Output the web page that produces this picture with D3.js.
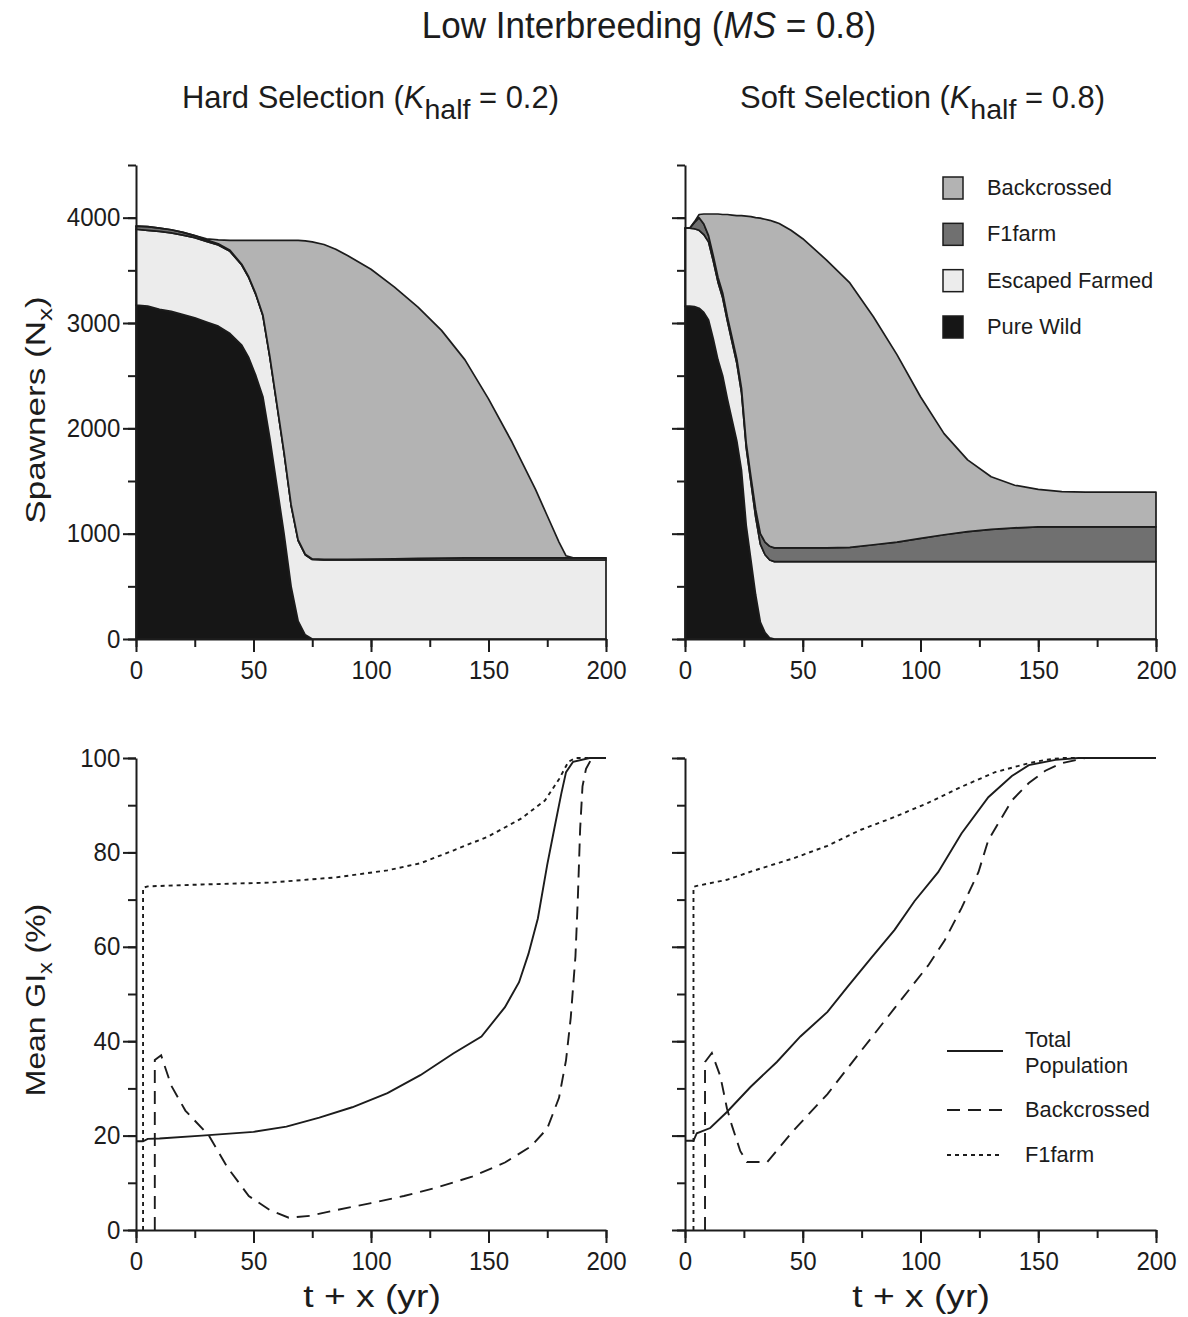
<!DOCTYPE html>
<html>
<head>
    <meta charset="UTF-8">
    <title>Low Interbreeding (MS = 0.8)</title>
    <script src="https://d3js.org/d3.v7.min.js"></script>
    <style>
        body { margin: 0; background: #fff; }
        svg text { font-family: "Liberation Sans", Arial, sans-serif; fill: #1c1c1c; }
    </style>
</head>
<body>
<svg id="chart"></svg>
<script>
    // ---------- values ----------
    // tick labels
    const x_labels = [0, 50, 100, 150, 200];
    const x_minor = d3.range(0, 201, 25);
    const n_labels = [0, 1000, 2000, 3000, 4000];
    const n_minor = d3.range(0, 4501, 500);
    const gi_labels = [0, 20, 40, 60, 80, 100];
    const gi_minor = d3.range(0, 101, 10);

    // stacked spawners, hard selection (layer sizes, bottom to top)
    const hard_years = [0,5,10,15,20,25,30,35,40,45,48,51,54,57,60,63,66,69,72,75,80,85,90,100,110,120,130,140,150,160,170,175,180,183,186,190,200];
    const hard_wild = [3170,3160,3130,3110,3080,3050,3010,2970,2900,2790,2670,2500,2300,1900,1450,1000,500,170,40,0,0,0,0,0,0,0,0,0,0,0,0,0,0,0,0,0,0];
    const hard_escaped = [720,720,740,745,755,760,765,770,780,760,760,770,770,770,770,770,770,765,760,755,750,750,750,750,750,750,750,750,750,750,750,750,750,750,750,750,750];
    const hard_f1farm = [30,35,30,30,25,20,15,12,10,8,7,6,6,6,5,5,5,5,5,5,5,5,5,8,10,15,18,20,20,20,20,20,20,20,20,20,20];
    const hard_backcrossed = [0,0,0,0,0,0,10,38,95,227,348,509,709,1109,1560,2010,2510,2845,2975,3010,2990,2945,2885,2752,2580,2385,2162,1880,1510,1100,650,400,150,20,0,0,0];

    // stacked spawners, soft selection
    const soft_years = [0,2,4,6,8,10,12,14,16,18,20,22,24,26,28,30,32,34,36,38,40,45,50,60,70,80,90,100,110,120,130,140,150,160,170,180,190,200];
    const soft_wild = [3160,3160,3155,3140,3100,3030,2850,2650,2500,2280,2080,1880,1600,1080,750,420,160,60,10,0,0,0,0,0,0,0,0,0,0,0,0,0,0,0,0,0,0,0];
    const soft_escaped = [740,740,740,740,740,740,740,740,740,740,740,740,740,740,740,740,740,740,740,735,735,735,735,735,735,735,735,735,735,735,735,735,735,735,735,735,735,735];
    const soft_f1farm = [0,0,60,120,100,60,50,45,45,40,40,40,40,40,50,70,100,120,130,130,130,130,130,130,135,160,185,220,255,285,305,320,330,330,330,330,330,330];
    const soft_backcrossed = [0,0,5,30,95,205,395,600,745,970,1165,1360,1640,2155,2470,2770,2995,3065,3095,3095,3080,3015,2935,2735,2510,2165,1780,1345,960,680,500,405,355,335,330,330,330,330];

    // mean GI (%), hard selection
    const hard_total_x = [0,3,5,10,28,50,64,78,92,107,121,135,147,157,163,167,171,175,178,181,183,186,193,200];
    const hard_total_y = [18.8,18.8,19.3,19.4,20,20.8,21.9,23.8,26,29,32.8,37.4,41,47.2,52.5,58.5,66,77.4,85,92.5,97,99.2,100,100];
    const hard_back_x = [8,8,10.7,15,21,31,39,48,57,65,74,85,100,114,128,143,157,168,175,180,183,185,187,188,189,190,191.5,194,200];
    const hard_back_y = [0,36,37,30.6,25.3,20,13.2,7.2,4.2,2.6,3,4.2,5.7,7.2,9,11.3,14.3,17.7,21.5,28,36,45,58,70,85,94,97.7,100,100];
    const hard_f1_x = [3,3,5,28,57,85,107,121,135,150,164,174,180,184,187,200];
    const hard_f1_y = [0,72.5,72.8,73.2,73.6,74.7,76.2,77.7,80.4,83.4,87.2,91,95.5,99.2,100,100];

    // mean GI (%), soft selection
    const soft_total_x = [0,3.6,5,10.7,17.8,27.8,39,49,60.5,69,79,89,97.5,107.5,117.4,128.8,138.8,146,157.3,167,200];
    const soft_total_y = [18.9,18.9,20.5,21.6,25,30.3,35.6,41,46.2,51.5,57.6,63.6,69.7,75.8,84,91.7,96.2,98.5,99.6,100,100];
    const soft_back_x = [8.5,8.5,11.4,15,17.8,20,23.5,26.3,34.9,46.3,60.5,74.7,89,103.2,110.3,117.4,124.6,128.8,138.8,146,153,160,170,200];
    const soft_back_y = [0,35.6,37.5,32.6,25.8,22,16.7,14.4,14.4,21.2,28.8,37.9,47,56,61.4,68.2,75.8,82.6,91,94.7,97.3,98.9,100,100];
    const soft_f1_x = [3.6,3.6,5,17.8,29,46.3,60.5,74.7,89,103.2,117.4,131.7,146,153,160,200];
    const soft_f1_y = [0,72.7,72.9,74.2,76.1,78.8,81.4,84.8,87.5,90.5,93.9,97,98.9,99.6,100,100];

    const layer_keys = ["wild", "escaped", "f1farm", "backcrossed"];
    const layer_names = {wild: "Pure Wild", escaped: "Escaped Farmed", f1farm: "F1farm", backcrossed: "Backcrossed"};

    // ---------- layout ----------
    const WIDTH = 1188, HEIGHT = 1317;
    const STRETCH = 1.18; // the scanned lettering is taller than the font
    const WIDEN = 1.17;   // ...and a bit wider too
    const INK = "#1c1c1c";
    const fills = {wild: "#161616", escaped: "#ececec", f1farm: "#707070", backcrossed: "#b3b3b3"};

    const columns = [{x0: 136, x1: 606}, {x0: 685, x1: 1156}];
    const top_range = [639, 165];
    const bottom_range = [1230, 758];

    const svg = d3.select("#chart").attr("width", WIDTH).attr("height", HEIGHT);

    // text helper, upright text scaled like the scan
    const label = function(x, y, size, anchor, sx) {
        return svg.append("g")
            .attr("transform", `translate(${x},${y}) scale(${sx || WIDEN},${STRETCH})`)
            .append("text")
            .attr("text-anchor", anchor || "start")
            .style("font-size", size + "px");
    };

    const draw_axes = function(g, x, y, y_major, y_minor, show_labels) {
        // minor ticks first, then major ticks with labels and the axis lines
        g.append("g").attr("transform", `translate(0,${y.range()[0]})`)
            .call(d3.axisBottom(x).tickValues(x_minor).tickSize(8).tickSizeOuter(0).tickFormat(""))
            .call(a => a.select(".domain").remove());
        g.append("g").attr("transform", `translate(0,${y.range()[0]})`)
            .call(d3.axisBottom(x).tickValues(x_labels).tickSize(13).tickSizeOuter(0).tickPadding(6));
        g.append("g").attr("transform", `translate(${x.range()[0]},0)`)
            .call(d3.axisLeft(y).tickValues(y_minor).tickSize(8).tickSizeOuter(0).tickFormat(""))
            .call(a => a.select(".domain").remove());
        g.append("g").attr("transform", `translate(${x.range()[0]},0)`)
            .call(d3.axisLeft(y).tickValues(y_major).tickSize(13).tickSizeOuter(0).tickPadding(1)
                .tickFormat(show_labels ? d3.format("d") : ""));

        g.selectAll(".domain, .tick line").attr("stroke", INK).attr("stroke-width", 2);
        g.selectAll(".tick text")
            .attr("fill", INK)
            .style("font-size", "21.5px")
            .style("font-family", "'Liberation Sans', Arial, sans-serif")
            .attr("transform", `scale(1.12,${STRETCH})`);
    };

    const stacked_panel = function(col, years, wild, escaped, f1farm, backcrossed, show_labels) {
        const x = d3.scaleLinear().domain([0, 200]).range([col.x0, col.x1]);
        const y = d3.scaleLinear().domain([0, 4500]).range(top_range);
        const rows = years.map((yr, i) => ({x: yr, wild: wild[i], escaped: escaped[i], f1farm: f1farm[i], backcrossed: backcrossed[i]}));
        const layers = d3.stack().keys(layer_keys)(rows);
        const area = d3.area().x(d => x(d.data.x)).y0(d => y(d[0])).y1(d => y(d[1]));

        const g = svg.append("g");
        g.selectAll(".layer").data(layers).enter().append("path")
            .attr("class", "layer")
            .attr("d", area)
            .attr("fill", d => fills[d.key])
            .attr("stroke", INK)
            .attr("stroke-width", 1.7)
            .attr("stroke-linejoin", "round");
        draw_axes(g, x, y, n_labels, n_minor, show_labels);
    };

    const line_panel = function(col, series, show_labels) {
        const x = d3.scaleLinear().domain([0, 200]).range([col.x0, col.x1]);
        const y = d3.scaleLinear().domain([0, 100]).range(bottom_range);
        const g = svg.append("g");
        const line = d3.line().x(d => x(d[0])).y(d => y(d[1]));
        series.forEach(function(s) {
            g.append("path")
                .attr("d", line(d3.zip(s.xs, s.ys)))
                .attr("fill", "none")
                .attr("stroke", INK)
                .attr("stroke-width", s.width)
                .attr("stroke-dasharray", s.dash);
        });
        draw_axes(g, x, y, gi_labels, gi_minor, show_labels);
    };

    const line_styles = {
        total: {dash: null, width: 1.9},
        back: {dash: "13,8", width: 1.9},
        f1: {dash: "4,4", width: 1.9}
    };

    stacked_panel(columns[0], hard_years, hard_wild, hard_escaped, hard_f1farm, hard_backcrossed, true);
    stacked_panel(columns[1], soft_years, soft_wild, soft_escaped, soft_f1farm, soft_backcrossed, false);

    line_panel(columns[0], [
        Object.assign({xs: hard_f1_x, ys: hard_f1_y}, line_styles.f1),
        Object.assign({xs: hard_back_x, ys: hard_back_y}, line_styles.back),
        Object.assign({xs: hard_total_x, ys: hard_total_y}, line_styles.total)
    ], true);
    line_panel(columns[1], [
        Object.assign({xs: soft_f1_x, ys: soft_f1_y}, line_styles.f1),
        Object.assign({xs: soft_back_x, ys: soft_back_y}, line_styles.back),
        Object.assign({xs: soft_total_x, ys: soft_total_y}, line_styles.total)
    ], false);

    //---------titles-----------
    const title = label(649, 38, 31, "middle", 1.13);
    title.append("tspan").text("Low Interbreeding (");
    title.append("tspan").style("font-style", "italic").text("MS");
    title.append("tspan").text(" = 0.8)");

    const sub_title = function(x, text, value) {
        const t = label(x, 108, 26, "start", 1.19);
        t.append("tspan").text(text + " (");
        t.append("tspan").style("font-style", "italic").text("K");
        t.append("tspan").attr("dy", 9).style("font-size", "24px").text("half");
        t.append("tspan").attr("dy", -9).text(" = " + value + ")");
    };
    sub_title(182, "Hard Selection", "0.2");
    sub_title(740, "Soft Selection", "0.8");

    // rotated axis titles, stretched along their length
    const side_title = function(cy, along, main, sub, tail) {
        const t = svg.append("g")
            .attr("transform", `translate(45,${cy}) rotate(-90) scale(${along},1.04)`)
            .append("text")
            .attr("text-anchor", "middle")
            .style("font-size", "27px");
        t.append("tspan").text(main);
        t.append("tspan").attr("dy", 7).style("font-size", "20px").text(sub);
        t.append("tspan").attr("dy", -7).text(tail);
    };
    side_title(410, 1.3, "Spawners (N", "x", ")");
    side_title(1000, 1.18, "Mean GI", "x", " (%)");

    [372, 921].forEach(function(cx) {
        label(cx, 1307, 27, "middle", 1.38).text("t + x (yr)");
    });

    //---------legends-----------
    const legend_order = ["backcrossed", "f1farm", "escaped", "wild"];
    const legend_y = d3.scalePoint().domain(legend_order).range([188, 327]);
    legend_order.forEach(function(k) {
        svg.append("rect")
            .attr("x", 943).attr("y", legend_y(k) - 11)
            .attr("width", 20).attr("height", 22)
            .attr("fill", fills[k])
            .attr("stroke", INK).attr("stroke-width", 1.5);
        label(987, legend_y(k) + 7, 18.5, "start", 1.18).text(layer_names[k]);
    });

    const line_legend = [
        {y: 1051, lines: ["Total", "Population"], ty: 1047, style: line_styles.total},
        {y: 1110, lines: ["Backcrossed"], ty: 1117, style: line_styles.back},
        {y: 1155, lines: ["F1farm"], ty: 1162, style: line_styles.f1}
    ];
    line_legend.forEach(function(d) {
        svg.append("line")
            .attr("x1", 947).attr("x2", 1003)
            .attr("y1", d.y).attr("y2", d.y)
            .attr("stroke", INK)
            .attr("stroke-width", d.style.width)
            .attr("stroke-dasharray", d.style.dash);
        d.lines.forEach(function(s, i) {
            label(1025, d.ty + i * 26, 18.5, "start", 1.18).text(s);
        });
    });
</script>
</body>
</html>
